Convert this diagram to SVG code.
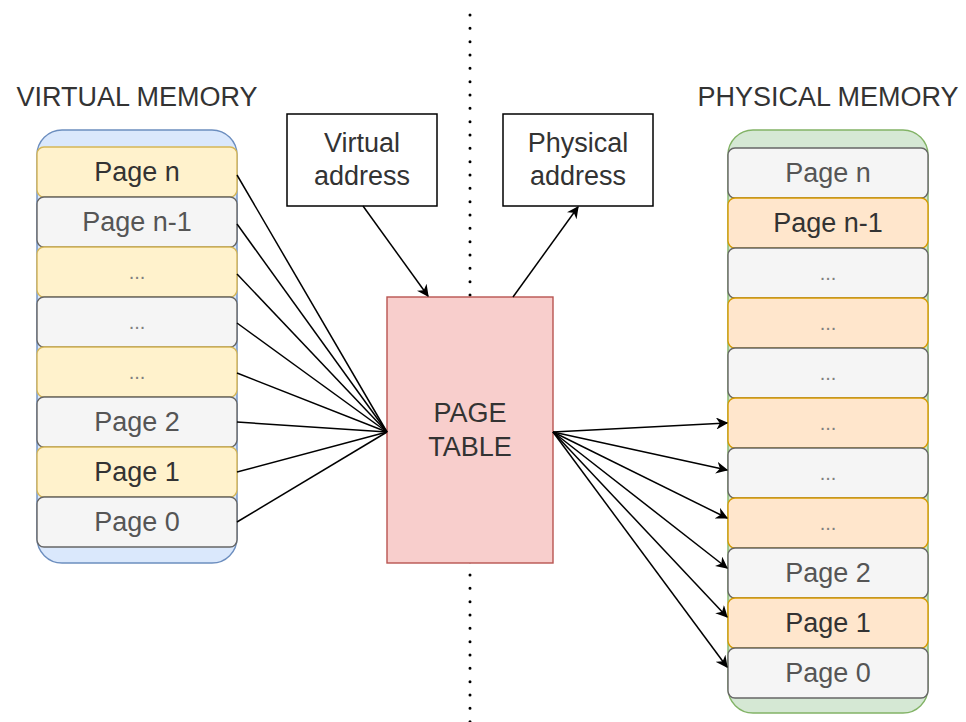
<svg xmlns="http://www.w3.org/2000/svg" width="966" height="722" viewBox="0 0 966 722">
<defs>
<style>
text{font-family:"Liberation Sans",Arial,sans-serif;font-size:27px;text-anchor:middle}
.y{fill:#fff2cc;stroke:#d6b656;stroke-width:1.4}
.g{fill:#f5f5f5;stroke:#666666;stroke-width:1.4}
.o{fill:#ffe6cc;stroke:#d79b00;stroke-width:1.4}
.ty{fill:#333333}
.tg{fill:#555555}
.dots{font-size:20px;fill:#808080}
.ttl{fill:#333333}
.box{fill:#ffffff;stroke:#000000;stroke-width:1.5}
.ln{stroke:#000000;stroke-width:1.5;fill:none}
</style>
<marker id="ah" viewBox="0 0 10 10" refX="9" refY="5" markerWidth="12" markerHeight="12" markerUnits="userSpaceOnUse" orient="auto">
<path d="M0,0 L10,5 L0,10 L3,5 z" fill="#000000"/>
</marker>
</defs>
<rect width="966" height="722" fill="#ffffff"/>

<g id="divider">
<line x1="470" y1="15" x2="470" y2="722" stroke="#000000" stroke-width="3" stroke-linecap="round" stroke-dasharray="0 13.333"/>
</g>

<g id="virtual-memory">
<text class="ttl" x="137" y="106">VIRTUAL MEMORY</text>
<rect x="37" y="130" width="200" height="433" rx="25" fill="#dae8fc" stroke="#6c8ebf" stroke-width="1.4"/>
<rect class="y" x="37" y="147" width="200" height="50" rx="7"/><text class="ty" x="137" y="181">Page n</text>
<rect class="g" x="37" y="197" width="200" height="50" rx="7"/><text class="tg" x="137" y="231">Page n-1</text>
<rect class="y" x="37" y="247" width="200" height="50" rx="7"/><text class="dots" x="137" y="279">...</text>
<rect class="g" x="37" y="297" width="200" height="50" rx="7"/><text class="dots" x="137" y="329">...</text>
<rect class="y" x="37" y="347" width="200" height="50" rx="7"/><text class="dots" x="137" y="379">...</text>
<rect class="g" x="37" y="397" width="200" height="50" rx="7"/><text class="tg" x="137" y="431">Page 2</text>
<rect class="y" x="37" y="447" width="200" height="50" rx="7"/><text class="ty" x="137" y="481">Page 1</text>
<rect class="g" x="37" y="497" width="200" height="50" rx="7"/><text class="tg" x="137" y="531">Page 0</text>
</g>

<g id="physical-memory">
<text class="ttl" x="828" y="106">PHYSICAL MEMORY</text>
<rect x="728" y="130" width="200" height="583" rx="25" fill="#d5e8d4" stroke="#82b366" stroke-width="1.4"/>
<rect class="g" x="728" y="148" width="200" height="50" rx="7"/><text class="tg" x="828" y="182">Page n</text>
<rect class="o" x="728" y="198" width="200" height="50" rx="7"/><text class="ty" x="828" y="232">Page n-1</text>
<rect class="g" x="728" y="248" width="200" height="50" rx="7"/><text class="dots" x="828" y="280">...</text>
<rect class="o" x="728" y="298" width="200" height="50" rx="7"/><text class="dots" x="828" y="330">...</text>
<rect class="g" x="728" y="348" width="200" height="50" rx="7"/><text class="dots" x="828" y="380">...</text>
<rect class="o" x="728" y="398" width="200" height="50" rx="7"/><text class="dots" x="828" y="430">...</text>
<rect class="g" x="728" y="448" width="200" height="50" rx="7"/><text class="dots" x="828" y="480">...</text>
<rect class="o" x="728" y="498" width="200" height="50" rx="7"/><text class="dots" x="828" y="530">...</text>
<rect class="g" x="728" y="548" width="200" height="50" rx="7"/><text class="tg" x="828" y="582">Page 2</text>
<rect class="o" x="728" y="598" width="200" height="50" rx="7"/><text class="ty" x="828" y="632">Page 1</text>
<rect class="g" x="728" y="648" width="200" height="50" rx="7"/><text class="tg" x="828" y="682">Page 0</text>
</g>

<g id="virtual-address">
<rect class="box" x="287" y="114" width="150" height="92"/>
<text class="ttl" x="362" y="152">Virtual</text>
<text class="ttl" x="362" y="185">address</text>
</g>

<g id="physical-address">
<rect class="box" x="503" y="114" width="150" height="92"/>
<text class="ttl" x="578" y="152">Physical</text>
<text class="ttl" x="578" y="185">address</text>
</g>

<g id="page-table">
<rect x="387" y="297" width="166" height="266" fill="#f8cecc" stroke="#b85450" stroke-width="1.4"/>
<text class="ttl" x="470" y="422">PAGE</text>
<text class="ttl" x="470" y="456">TABLE</text>
</g>

<g id="connectors">
<line class="ln" x1="363" y1="206" x2="428" y2="296" marker-end="url(#ah)"/>
<line class="ln" x1="513" y1="297" x2="578" y2="207" marker-end="url(#ah)"/>
<line class="ln" x1="237" y1="175" x2="387" y2="432"/>
<line class="ln" x1="237" y1="224" x2="387" y2="432"/>
<line class="ln" x1="237" y1="274" x2="387" y2="432"/>
<line class="ln" x1="237" y1="323" x2="387" y2="432"/>
<line class="ln" x1="237" y1="373" x2="387" y2="432"/>
<line class="ln" x1="237" y1="422" x2="387" y2="432"/>
<line class="ln" x1="237" y1="472" x2="387" y2="432"/>
<line class="ln" x1="237" y1="522" x2="387" y2="432"/>
<line class="ln" x1="553" y1="432" x2="727" y2="423" marker-end="url(#ah)"/>
<line class="ln" x1="553" y1="432" x2="727" y2="470" marker-end="url(#ah)"/>
<line class="ln" x1="553" y1="432" x2="727" y2="518" marker-end="url(#ah)"/>
<line class="ln" x1="553" y1="432" x2="727" y2="568" marker-end="url(#ah)"/>
<line class="ln" x1="553" y1="432" x2="727" y2="617" marker-end="url(#ah)"/>
<line class="ln" x1="553" y1="432" x2="727" y2="667" marker-end="url(#ah)"/>
</g>
</svg>
